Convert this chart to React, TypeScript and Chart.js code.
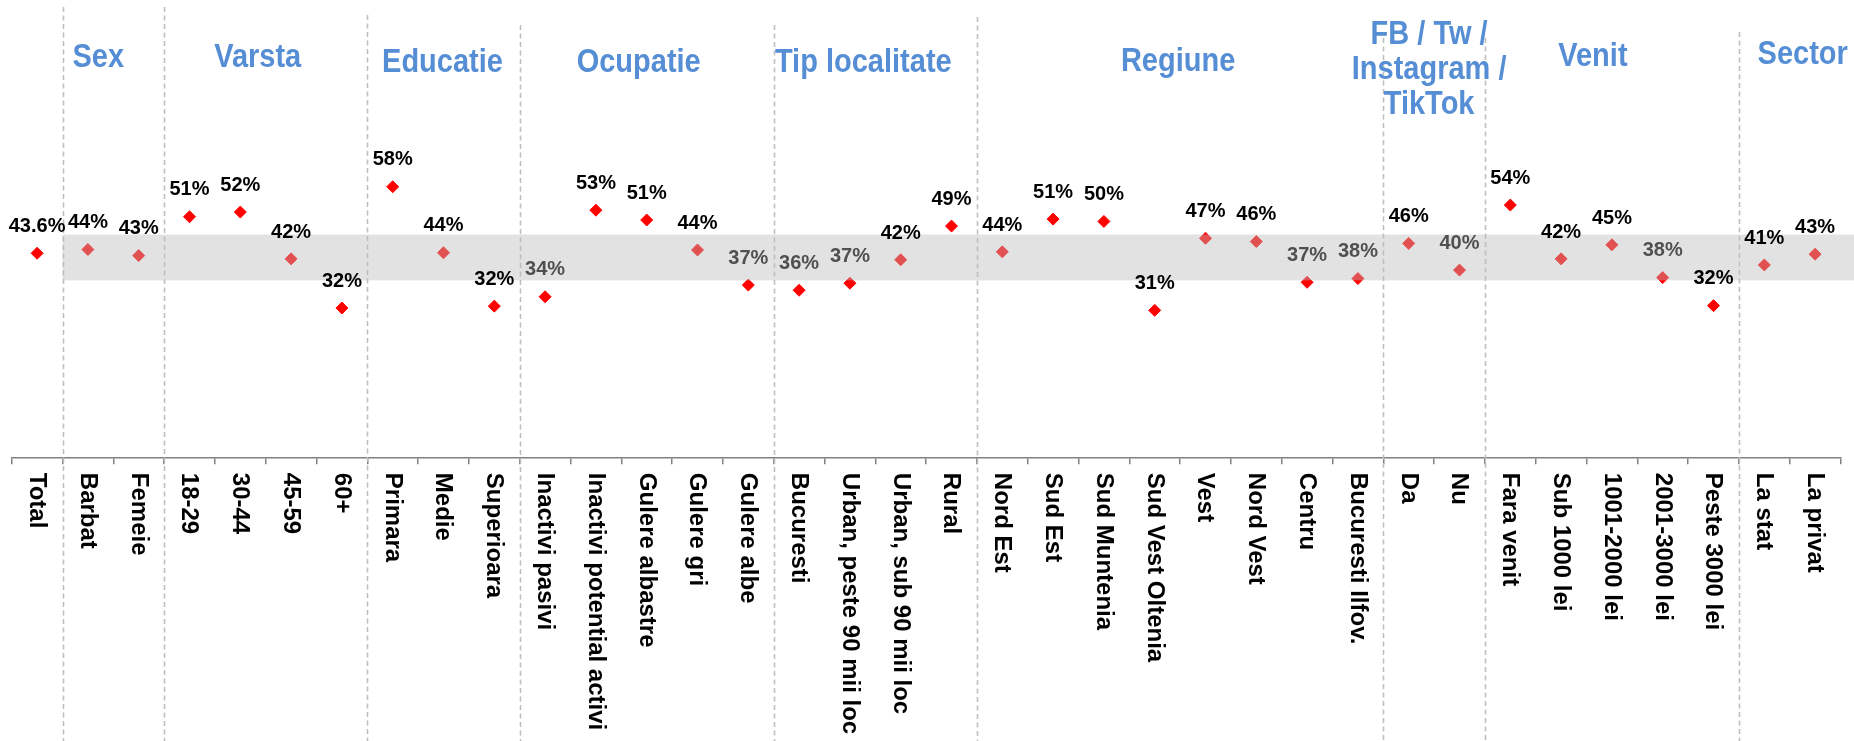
import React, { useEffect, useRef } from 'react';
import { Chart, registerables } from 'chart.js';

Chart.register(...registerables);

// ---------- DATA ----------
const CATEGORIES = [
  'Total',
  'Barbat', 'Femeie',
  '18-29', '30-44', '45-59', '60+',
  'Primara', 'Medie', 'Superioara',
  'Inactivi pasivi', 'Inactivi potential activi', 'Gulere albastre', 'Gulere gri', 'Gulere albe',
  'Bucuresti', 'Urban, peste 90 mii loc', 'Urban, sub 90 mii loc', 'Rural',
  'Nord Est', 'Sud Est', 'Sud Muntenia', 'Sud Vest Oltenia', 'Vest', 'Nord Vest', 'Centru', 'Bucuresti Ilfov.',
  'Da', 'Nu',
  'Fara venit', 'Sub 1000 lei', '1001-2000 lei', '2001-3000 lei', 'Peste 3000 lei',
  'La stat', 'La privat',
];

const VALUES = [
  43.6,
  44.4, 43.1,
  51.4, 52.4, 42.4, 31.9,
  57.8, 43.7, 32.3,
  34.3, 52.8, 50.7, 44.3, 36.8,
  35.7, 37.2, 42.2, 49.4,
  43.9, 50.9, 50.4, 31.4, 46.8, 46.1, 37.4, 38.2,
  45.7, 40.0,
  53.9, 42.4, 45.4, 38.4, 32.4,
  41.1, 43.4,
];

const GROUP_TITLES = [
  ['Sex'],
  ['Varsta'],
  ['Educatie'],
  ['Ocupatie'],
  ['Tip localitate'],
  ['Regiune'],
  ['FB / Tw /', 'Instagram /', 'TikTok'],
  ['Venit'],
  ['Sector'],
];
const GROUP_SIZES = [2, 4, 3, 5, 4, 8, 2, 5, 2];

// grey band (range around the total)
const BAND = [37.8, 47.6];

// labels drawn in grey
const MUTED_LABELS = [
  'Inactivi pasivi', 'Gulere albe', 'Bucuresti', 'Urban, peste 90 mii loc',
  'Centru', 'Bucuresti Ilfov.', 'Nu', '2001-3000 lei',
];

// ---------- LAYOUT / STYLE ----------
const FONT = '"Liberation Sans", Arial, Helvetica, sans-serif';
const W = 1854;
const H = 741;
const AXIS_Y = 457.3;
const Y_MAX = 95;
// per group: title x shift from group centre, baseline of first line
const TITLE_LAYOUT = [
  { dx: -15, y: 66.7 },
  { dx: -8, y: 66.7 },
  { dx: -1, y: 72 },
  { dx: -8, y: 72 },
  { dx: -12, y: 72 },
  { dx: -2, y: 71 },
  { dx: -5, y: 44 },
  { dx: -19, y: 65.5 },
  { dx: 13, y: 64 },
];
const DIVIDER_TOPS = [7, 7, 15, 25, 25, 17, 38, 38, 32];

const decoPlugin = {
  id: 'deco',
  beforeDatasetsDraw(chart: any) {
    const { ctx } = chart;
    const xs = chart.scales.x;
    ctx.save();
    ctx.strokeStyle = '#BFBFBF';
    ctx.lineWidth = 1.6;
    ctx.setLineDash([5, 3.5]);
    let start = 1;
    GROUP_SIZES.forEach((n, g) => {
      const x = Math.round(xs.getPixelForValue(start - 0.5)) + 0.5;
      ctx.beginPath();
      ctx.moveTo(x, DIVIDER_TOPS[g]);
      ctx.lineTo(x, H);
      ctx.stroke();
      start += n;
    });
    ctx.restore();
  },
  afterDatasetsDraw(chart: any) {
    const { ctx } = chart;
    const xs = chart.scales.x;
    const ys = chart.scales.y;
    // translucent band on top of the markers
    ctx.save();
    const bx = xs.getPixelForValue(0.5);
    const yTop = ys.getPixelForValue(BAND[1]);
    const yBot = ys.getPixelForValue(BAND[0]);
    ctx.fillStyle = 'rgba(187,187,187,0.43)';
    ctx.fillRect(bx, yTop, W - bx, yBot - yTop);
    ctx.restore();

    // value labels
    ctx.save();
    ctx.font = `bold 20px ${FONT}`;
    ctx.textAlign = 'center';
    ctx.textBaseline = 'alphabetic';
    VALUES.forEach((v, i) => {
      const x = xs.getPixelForValue(i);
      const y = ys.getPixelForValue(v);
      const txt = i === 0 ? `${v.toFixed(1)}%` : `${Math.round(v)}%`;
      ctx.fillStyle = MUTED_LABELS.includes(CATEGORIES[i]) ? '#505050' : '#000000';
      ctx.fillText(txt, x, y - 21.3);
    });
    ctx.restore();
  },
  afterDraw(chart: any) {
    const { ctx } = chart;
    const xs = chart.scales.x;
    // category labels, rotated clockwise
    ctx.save();
    ctx.font = `bold 24px ${FONT}`;
    ctx.fillStyle = '#000000';
    ctx.textAlign = 'left';
    ctx.textBaseline = 'middle';
    CATEGORIES.forEach((c, i) => {
      const x = xs.getPixelForValue(i);
      ctx.save();
      ctx.translate(x - 0.5, AXIS_Y + 15.5);
      ctx.rotate(Math.PI / 2);
      ctx.fillText(c, 0, 0);
      ctx.restore();
    });
    ctx.restore();

    // group titles
    ctx.save();
    ctx.font = `bold 29px ${FONT}`;
    ctx.fillStyle = '#558ED5';
    ctx.textAlign = 'center';
    ctx.textBaseline = 'alphabetic';
    let start = 1;
    GROUP_SIZES.forEach((n, g) => {
      const left = xs.getPixelForValue(start - 0.5);
      const right = xs.getPixelForValue(start + n - 0.5);
      const cx = (left + right) / 2 + TITLE_LAYOUT[g].dx;
      GROUP_TITLES[g].forEach((line, li) => {
        ctx.save();
        ctx.translate(cx, TITLE_LAYOUT[g].y + li * 35);
        ctx.scale(1, 1.12);
        ctx.fillText(line, 0, 0);
        ctx.restore();
      });
      start += n;
    });
    ctx.restore();
  },
};

export default function App() {
  const ref = useRef<HTMLCanvasElement | null>(null);

  useEffect(() => {
    document.body.style.margin = '0';
    if (!ref.current) return;
    const chart = new Chart(ref.current, {
      type: 'line',
      data: {
        labels: CATEGORIES,
        datasets: [
          {
            data: VALUES,
            showLine: false,
            pointStyle: 'rectRot',
            pointRadius: 6,
            pointBorderWidth: 1,
            pointBackgroundColor: '#FF0000',
            pointBorderColor: '#FF0000',
          },
        ],
      },
      options: {
        responsive: true,
        maintainAspectRatio: false,
        animation: false,
        events: [],
        layout: { padding: { top: AXIS_Y - Y_MAX * 4.68, left: 11.7, right: 13.5, bottom: 0 } },
        plugins: { legend: { display: false }, tooltip: { enabled: false }, title: { display: false } },
        scales: {
          x: {
            type: 'category',
            offset: true,
            ticks: { display: false },
            grid: {
              display: true,
              offset: true,
              drawOnChartArea: false,
              drawTicks: true,
              tickLength: 7,
              color: '#808080',
              lineWidth: 1.5,
            },
            border: { display: true, color: '#808080', width: 1.5 },
            afterFit: (scale: any) => {
              scale.height = H - AXIS_Y;
            },
          },
          y: {
            display: false,
            min: 0,
            max: Y_MAX,
          },
        },
      },
      plugins: [decoPlugin],
    });
    return () => chart.destroy();
  }, []);

  return (
    <div style={{ position: 'absolute', left: 0, top: 0, width: W, height: H, background: '#fff' }}>
      <canvas ref={ref} />
    </div>
  );
}
